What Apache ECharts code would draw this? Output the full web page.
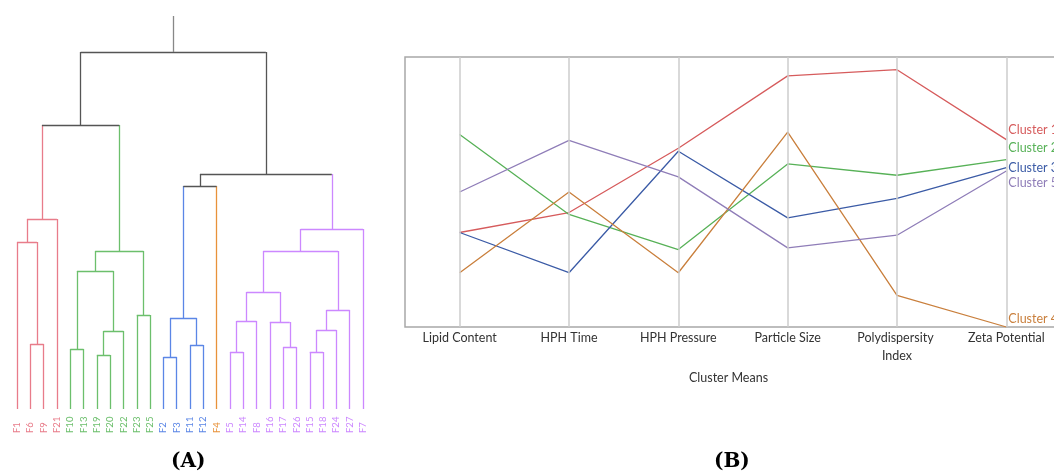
<!DOCTYPE html>
<html><head><meta charset="utf-8">
<script src="https://cdn.jsdelivr.net/npm/echarts@6/dist/echarts.min.js"></script>
<style>html,body{margin:0;padding:0;background:#fff;overflow:hidden}#c{width:1075px;height:472px}</style>
</head><body><div id="c"></div>
<script>
// ---- Panel A: dendrogram data ----
const leafNames = ['F1','F6','F9','F21','F10','F13','F19','F20','F22','F23','F25','F2','F3','F11','F12','F4','F5','F14','F8','F16','F17','F26','F15','F18','F24','F27','F7'];
const leafClusters = [1,1,1,1,2,2,2,2,2,2,2,3,3,3,3,4,5,5,5,5,5,5,5,5,5,5,5];
// merges: [childA, childB, height]; leaves are 0..26, merge k gets id 27+k
const merges = [
  [1,2,6.5],[0,27,16.7],[28,3,19.0],
  [4,5,6.0],[6,7,5.4],[31,8,7.8],[30,32,13.8],[9,10,9.4],[33,34,15.8],
  [29,35,28.4],
  [11,12,5.2],[13,14,6.4],[37,38,9.1],[39,15,22.3],
  [16,17,5.7],[41,18,8.8],[20,21,6.2],[19,43,8.7],[42,44,11.7],
  [22,23,5.7],[46,24,7.9],[47,25,9.9],[45,48,15.8],[49,26,18.0],
  [40,50,23.5],[36,51,35.7]
];
const stemTop = 39.3;

// ---- Panel B: cluster means ----
const features = ['Lipid Content','HPH Time','HPH Pressure','Particle Size','Polydispersity Index','Zeta Potential'];
const cluster1 = [0.35, 0.424, 0.662, 0.930, 0.953, 0.694];
const cluster2 = [0.713, 0.417, 0.287, 0.604, 0.562, 0.620];
const cluster3 = [0.35, 0.201, 0.651, 0.404, 0.476, 0.590];
const cluster4 = [0.201, 0.50, 0.201, 0.722, 0.117, 0.0];
const cluster5 = [0.50, 0.691, 0.556, 0.293, 0.340, 0.578];

const dendroColors = {0:'#555555',1:'#e87c8a',2:'#6cbf6c',3:'#5b86e6',4:'#e8923a',5:'#cc88ff'};
const lineColors = ['#d65b5c','#57b157','#3b5ba6','#c97f3c','#8f7db8'];

// build dendrogram geometry via data coordinates
const nodeX = leafNames.map((_, i) => i);
const nodeH = leafNames.map(() => 0);
const nodeC = leafClusters.slice();
merges.forEach(m => {
  nodeX.push((nodeX[m[0]] + nodeX[m[1]]) / 2);
  nodeH.push(m[2]);
  nodeC.push(nodeC[m[0]] === nodeC[m[1]] ? nodeC[m[0]] : 0);
});
const segs = [];
merges.forEach((m, k) => {
  const id = leafNames.length + k;
  [m[0], m[1]].forEach(ch => {
    segs.push({coords: [[nodeX[ch], nodeH[ch]], [nodeX[ch], m[2]]], lineStyle: {color: dendroColors[nodeC[ch]]}});
  });
  segs.push({coords: [[nodeX[m[0]], m[2]], [nodeX[m[1]], m[2]]], lineStyle: {color: dendroColors[nodeC[id]]}});
});
const rootId = nodeX.length - 1;
segs.push({coords: [[nodeX[rootId], nodeH[rootId]], [nodeX[rootId], stemTop]], lineStyle: {color: '#888888'}});

const clusterNames = ['Cluster 1','Cluster 2','Cluster 3','Cluster 4','Cluster 5'];
const clusterData = [cluster1, cluster2, cluster3, cluster4, cluster5];
const labelOffsets = [[0,-10],[0,-12],[0,0],[0,-8],[0,12.5]];

const chart = echarts.init(document.getElementById('c'));
const font = 'Lato, "Open Sans", sans-serif';
chart.setOption({
  animation: false,
  grid: [
    {left: 17, top: 16, width: 346, height: 393},
    {left: 405, top: 57, width: 656, height: 270, show: true, borderColor: '#a8a8a8', borderWidth: 1.5}
  ],
  xAxis: [
    {gridIndex: 0, type: 'value', min: 0, max: leafNames.length - 1, interval: 1,
     axisLine: {show: false}, axisTick: {show: false}, splitLine: {show: false},
     axisLabel: {rotate: 90, align: 'left', margin: 24, fontSize: 9.5, fontFamily: font,
       formatter: v => leafNames[v] || '',
       color: (v) => dendroColors[leafClusters[v]] }},
    {gridIndex: 1, type: 'category', data: features, boundaryGap: true,
     axisLine: {show: false}, axisTick: {show: false}, splitLine: {show: false},
     axisLabel: {fontSize: 12.5, fontFamily: font, color: '#333', margin: 2, lineHeight: 18,
       width: 100, overflow: 'break', interval: 0},
     name: 'Cluster Means', nameLocation: 'middle', nameGap: 44,
     nameTextStyle: {fontSize: 12.5, fontFamily: font, color: '#333', padding: [0, 9, 0, 0]}}
  ],
  yAxis: [
    {gridIndex: 0, type: 'value', min: 0, max: stemTop, show: false},
    {gridIndex: 1, type: 'value', min: 0, max: 1, show: false}
  ],
  series: [
    {type: 'lines', coordinateSystem: 'cartesian2d', xAxisIndex: 0, yAxisIndex: 0,
     polyline: false, silent: true, lineStyle: {width: 1.3, opacity: 1}, data: segs},
    {type: 'line', xAxisIndex: 1, yAxisIndex: 1, data: [], z: 1, silent: true,
     markLine: {silent: true, symbol: 'none', label: {show: false},
       lineStyle: {color: '#cccccc', width: 1.5, type: 'solid'},
       data: features.map(f => ({xAxis: f}))}},
    ...clusterNames.map((n, i) => ({
      type: 'line', name: n, xAxisIndex: 1, yAxisIndex: 1, data: clusterData[i], z: 3,
      symbol: 'none', lineStyle: {width: 1.3, color: lineColors[i]}, itemStyle: {color: lineColors[i]},
      endLabel: {show: true, formatter: '{a}', color: lineColors[i], fontSize: 12.5, fontFamily: font,
        distance: 2, offset: labelOffsets[i]}
    }))
  ],
  graphic: [
    {type: 'text', left: 171, top: 452, style: {text: '(A)', font: 'bold 20px "DejaVu Serif", serif', fill: '#000'}},
    {type: 'text', left: 714, top: 452, style: {text: '(B)', font: 'bold 20px "DejaVu Serif", serif', fill: '#000'}}
  ]
});
</script></body></html>
